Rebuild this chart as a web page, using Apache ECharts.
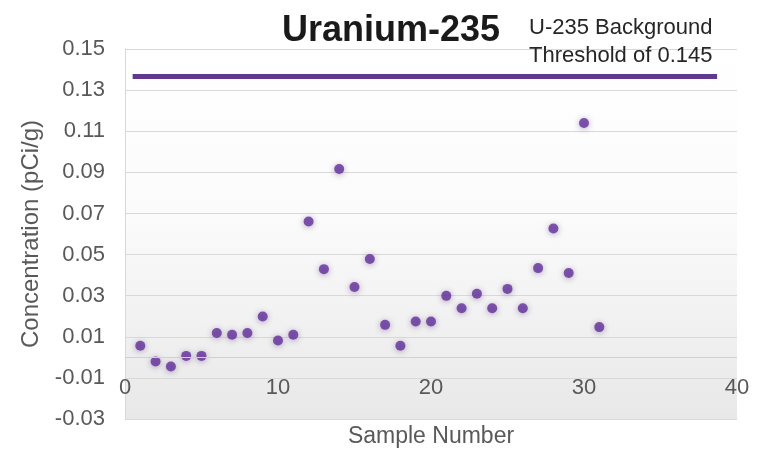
<!DOCTYPE html>
<html>
<head>
<meta charset="utf-8">
<script src="https://cdn.jsdelivr.net/npm/echarts@6/dist/echarts.min.js"></script>
<style>
html,body{margin:0;padding:0;background:#fff;}
#chart{width:763px;height:450px;}
</style>
</head>
<body>
<div id="chart"></div>
<script>
// Data
const sampleNumbers = [1,2,3,4,5,6,7,8,9,10,11,12,13,14,15,16,17,18,19,20,21,22,23,24,25,26,27,28,29,30,31];
const concentrations = [0.0056,-0.0020,-0.0045,0.0007,0.0007,0.0118,0.0110,0.0118,0.0199,0.0082,0.0110,0.0661,0.0429,0.0916,0.0342,0.0478,0.0158,0.0056,0.0174,0.0174,0.0299,0.0239,0.0309,0.0239,0.0333,0.0239,0.0434,0.0627,0.0410,0.1140,0.0147];
const thresholdX = [0.5, 38.7];
const thresholdValue = 0.1366;
const yTicks = [-0.03,-0.01,0.01,0.03,0.05,0.07,0.09,0.11,0.13,0.15];
const xTicks = [0,10,20,30,40];
const zeroLineValue = 0;

const titleText = 'Uranium-235';
const noteText = 'U-235 Background\nThreshold of 0.145';
const xName = 'Sample Number';
const yName = 'Concentration (pCi/g)';

const FONT = 'Liberation Sans';
const scatterData = sampleNumbers.map((x, i) => [x, concentrations[i]]);
const thresholdData = thresholdX.map(x => [x, thresholdValue]);

const chart = echarts.init(document.getElementById('chart'), null, {renderer: 'canvas'});
chart.setOption({
  animation: false,
  backgroundColor: '#ffffff',
  title: [
    {text: titleText, left: 277, top: 8,
     textStyle: {fontFamily: FONT, fontSize: 36, fontWeight: 'bold', color: '#1a1a1a', lineHeight: 36}},
    {text: noteText, left: 524, top: 9,
     textStyle: {fontFamily: FONT, fontSize: 22, fontWeight: 'normal', color: '#262626', lineHeight: 28}}
  ],
  grid: {
    left: 125, right: 26, top: 49, bottom: 31,
    outerBoundsMode: 'none', containLabel: false,
    show: true, borderWidth: 0,
    backgroundColor: new echarts.graphic.LinearGradient(0, 0, 0, 1, [
      {offset: 0, color: '#ffffff'},
      {offset: 0.45, color: '#fbfbfb'},
      {offset: 1, color: '#e8e8e8'}
    ])
  },
  xAxis: {
    type: 'value', min: xTicks[0], max: xTicks[xTicks.length - 1], interval: 10,
    name: xName, nameLocation: 'middle', nameGap: 6,
    nameTextStyle: {fontFamily: FONT, fontSize: 23, color: '#595959'},
    axisLine: {show: false},
    axisTick: {show: false},
    splitLine: {show: false},
    axisLabel: {inside: true, fontFamily: FONT, fontSize: 22, color: '#595959', margin: 20}
  },
  yAxis: {
    type: 'value', min: yTicks[0], max: yTicks[yTicks.length - 1], interval: 0.02,
    name: yName, nameLocation: 'middle', nameGap: 82, nameRotate: 90,
    nameTextStyle: {fontFamily: FONT, fontSize: 24, color: '#595959'},
    axisLine: {show: true, onZero: false, lineStyle: {color: '#d9d9d9', width: 1}},
    axisTick: {show: false},
    splitLine: {show: true, lineStyle: {color: '#d9d9d9', width: 1}},
    axisLabel: {fontFamily: FONT, fontSize: 22, color: '#595959', margin: 20,
      formatter: v => v.toFixed(2)}
  },
  series: [
    {
      type: 'line', data: thresholdData, showSymbol: false, symbol: 'none',
      lineStyle: {color: '#62388f', width: 5, cap: 'butt'},
      silent: true, z: 2
    },
    {
      type: 'scatter', data: scatterData, symbol: 'circle', symbolSize: 10,
      itemStyle: {color: '#622f9a', shadowBlur: 6, shadowColor: 'rgba(70,30,110,0.5)', shadowOffsetY: 1},
      markLine: {
        silent: true, symbol: 'none', label: {show: false},
        lineStyle: {color: '#d0d0d0', width: 1, type: 'solid'},
        data: [{yAxis: zeroLineValue}]
      },
      z: 3
    }
  ]
});
</script>
</body>
</html>
